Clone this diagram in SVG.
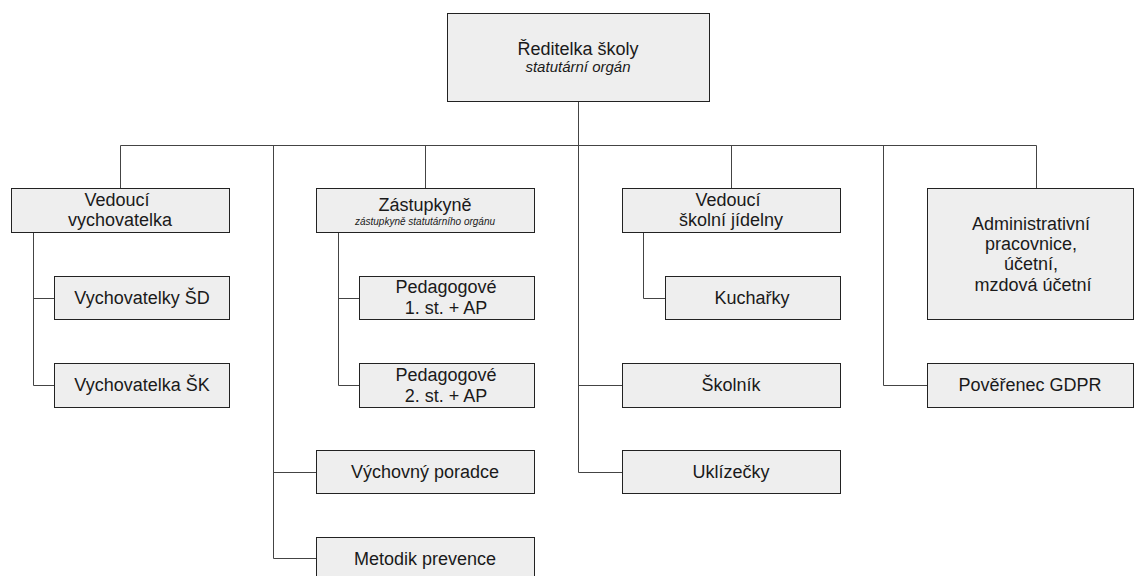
<svg xmlns="http://www.w3.org/2000/svg" width="1134" height="576" viewBox="0 0 1134 576">
<style>
.box{fill:#eeeeee;stroke:#222222;stroke-width:1}
.t{font-family:"Liberation Sans",Arial,sans-serif;font-size:18px;fill:#1a1a1a;text-anchor:middle}
.s{font-family:"Liberation Sans",Arial,sans-serif;font-size:15px;font-style:italic;fill:#1a1a1a;text-anchor:middle}
.xs{font-family:"Liberation Sans",Arial,sans-serif;font-size:10px;font-style:italic;fill:#1a1a1a;text-anchor:middle}
.c{fill:none;stroke:#444444;stroke-width:1}
</style>
<rect width="1134" height="576" fill="#ffffff"/>
<g id="connectors">
<path class="c" d="M578.5 101V145.5"/>
<path class="c" d="M120.5 188V145.5H1036.5V188"/>
<path class="c" d="M425.5 145.5V188"/>
<path class="c" d="M731.5 145.5V188"/>
<path class="c" d="M273.5 145.5V558.5H316"/>
<path class="c" d="M273.5 472.5H316"/>
<path class="c" d="M578.5 145.5V472.5H622"/>
<path class="c" d="M578.5 385.5H622"/>
<path class="c" d="M883.5 145.5V385.5H927"/>
<path class="c" d="M33.5 232V385.5H54"/>
<path class="c" d="M33.5 298.5H54"/>
<path class="c" d="M338.5 232V385.5H359"/>
<path class="c" d="M338.5 298.5H359"/>
<path class="c" d="M643.5 232V298.5H665"/>
</g>
<g id="reditelka">
<rect class="box" x="447.5" y="13.5" width="262" height="88"/>
<text class="t" x="578" y="55">Ředitelka školy</text>
<text class="s" x="578" y="72">statutární orgán</text>
</g>
<g id="vedouci-vychovatelka">
<rect class="box" x="11.5" y="188.5" width="218" height="44"/>
<text class="t" x="117" y="206">Vedoucí</text>
<text class="t" x="120" y="226">vychovatelka</text>
</g>
<g id="zastupkyne">
<rect class="box" x="316.5" y="188.5" width="218" height="44"/>
<text class="t" x="425" y="211">Zástupkyně</text>
<text class="xs" x="425" y="225">zástupkyně statutárního orgánu</text>
</g>
<g id="vedouci-jidelny">
<rect class="box" x="622.5" y="188.5" width="218" height="44"/>
<text class="t" x="728" y="206">Vedoucí</text>
<text class="t" x="731" y="226">školní jídelny</text>
</g>
<g id="administrativni">
<rect class="box" x="927.5" y="188.5" width="206" height="131"/>
<text class="t" x="1031" y="230">Administrativní</text>
<text class="t" x="1031" y="250">pracovnice,</text>
<text class="t" x="1031" y="270">účetní,</text>
<text class="t" x="1033" y="291">mzdová účetní</text>
</g>
<g id="vychovatelky-sd">
<rect class="box" x="54.5" y="276.5" width="175" height="43"/>
<text class="t" x="142" y="304">Vychovatelky ŠD</text>
</g>
<g id="vychovatelka-sk">
<rect class="box" x="54.5" y="363.5" width="175" height="44"/>
<text class="t" x="142" y="391">Vychovatelka ŠK</text>
</g>
<g id="pedagogove-1">
<rect class="box" x="359.5" y="276.5" width="175" height="43"/>
<text class="t" x="446" y="293">Pedagogové</text>
<text class="t" x="446" y="314">1. st. + AP</text>
</g>
<g id="pedagogove-2">
<rect class="box" x="359.5" y="363.5" width="175" height="44"/>
<text class="t" x="446" y="381">Pedagogové</text>
<text class="t" x="446" y="402">2. st. + AP</text>
</g>
<g id="kucharky">
<rect class="box" x="665.5" y="276.5" width="175" height="43"/>
<text class="t" x="752" y="304">Kuchařky</text>
</g>
<g id="skolnik">
<rect class="box" x="622.5" y="363.5" width="218" height="44"/>
<text class="t" x="731" y="391">Školník</text>
</g>
<g id="poverenec">
<rect class="box" x="927.5" y="363.5" width="206" height="44"/>
<text class="t" x="1030" y="391">Pověřenec GDPR</text>
</g>
<g id="vychovny-poradce">
<rect class="box" x="316.5" y="450.5" width="218" height="43"/>
<text class="t" x="425" y="478">Výchovný poradce</text>
</g>
<g id="uklizecky">
<rect class="box" x="622.5" y="450.5" width="218" height="43"/>
<text class="t" x="731" y="478">Uklízečky</text>
</g>
<g id="metodik-prevence">
<rect class="box" x="316.5" y="537.5" width="218" height="44"/>
<text class="t" x="425" y="565">Metodik prevence</text>
</g>
</svg>
